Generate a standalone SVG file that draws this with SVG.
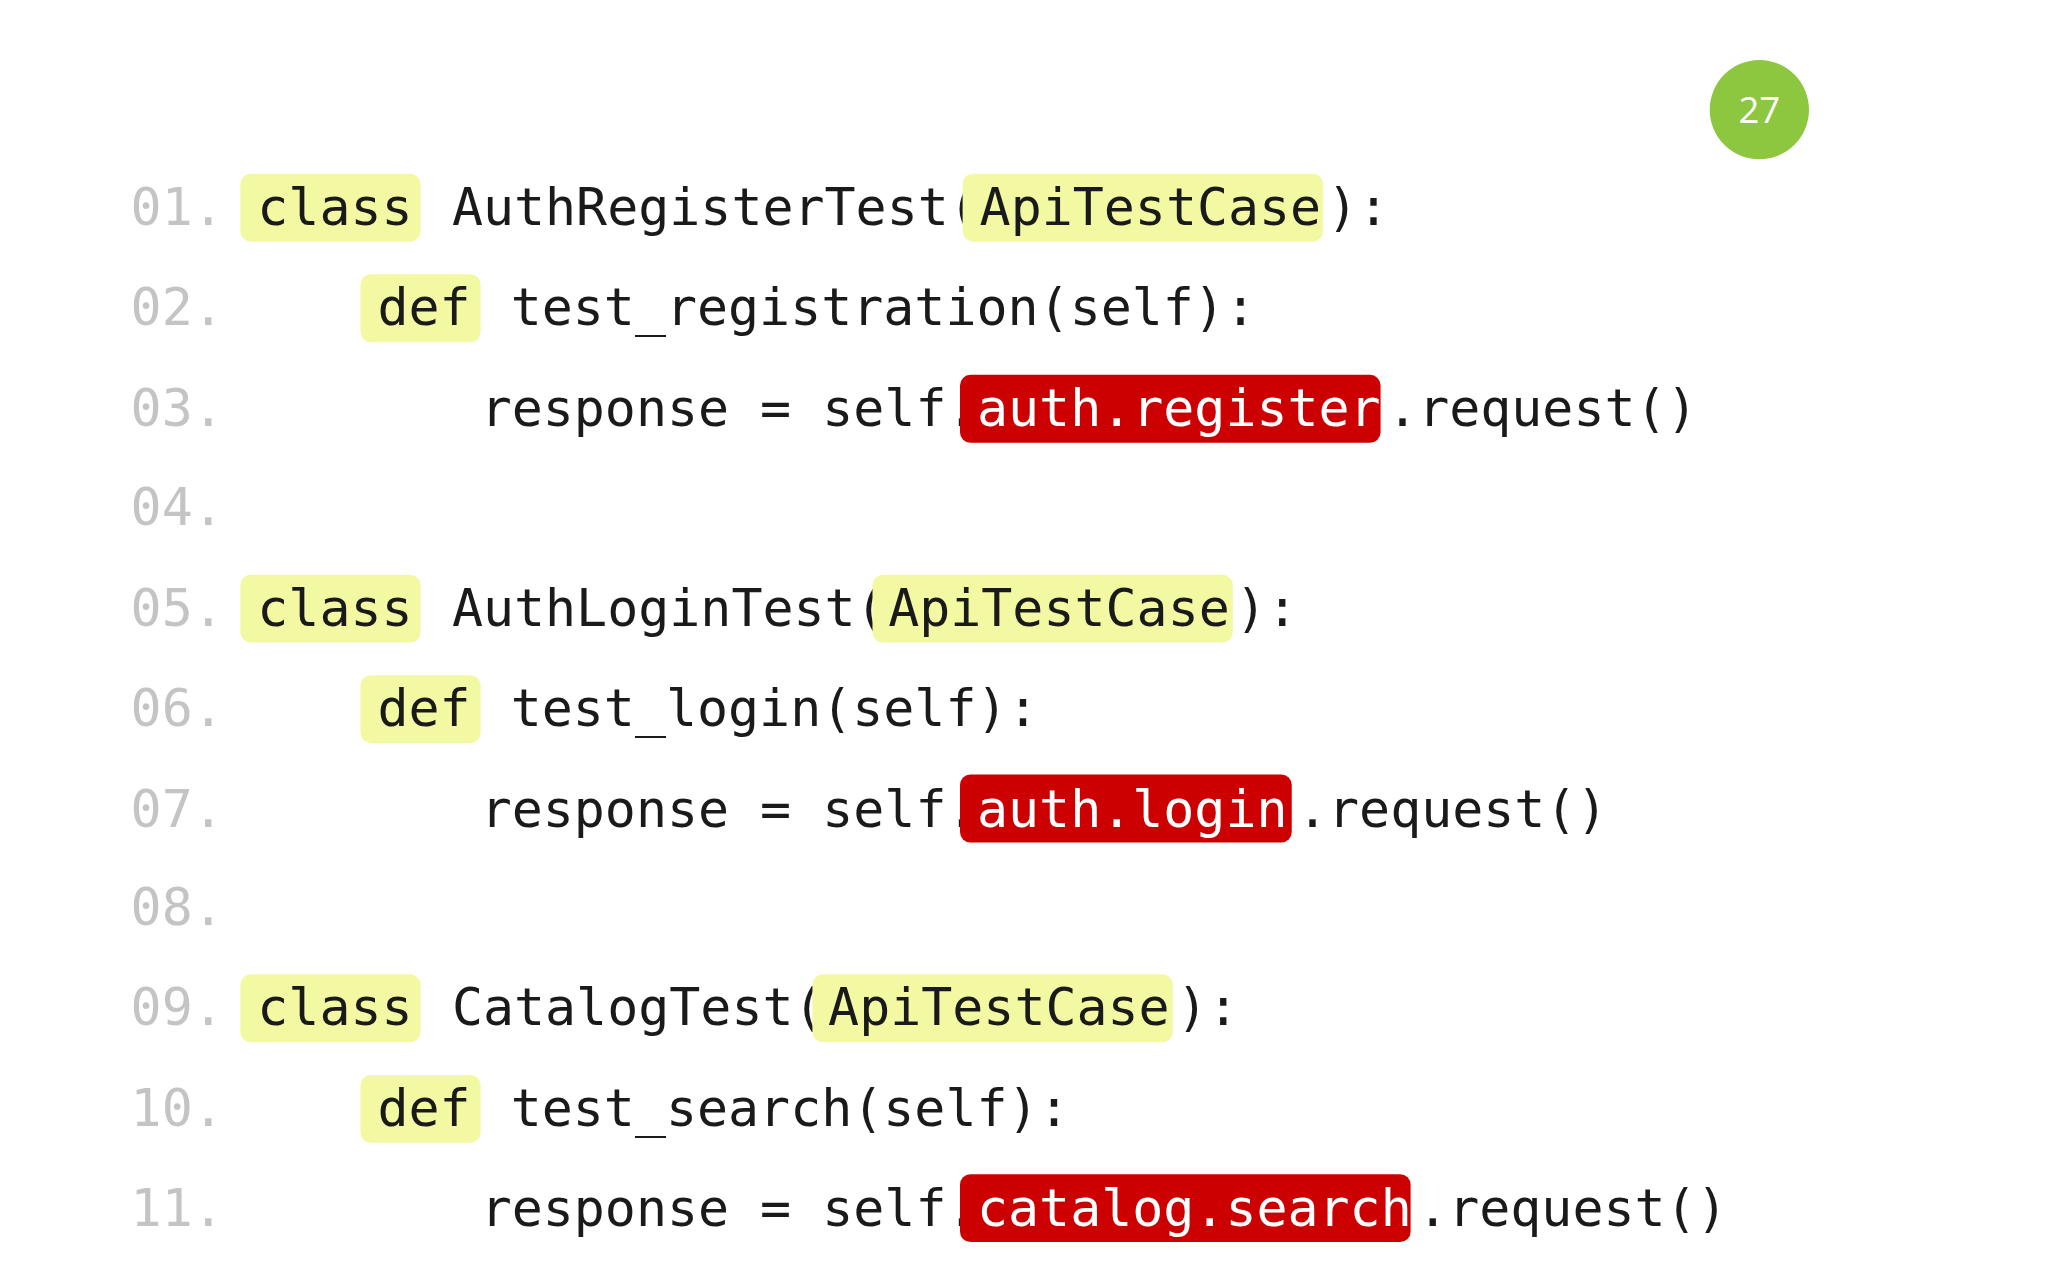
<svg xmlns="http://www.w3.org/2000/svg" width="2048" height="1280" viewBox="0 0 2048 1280">
<style>
.t{font-family:"DejaVu Sans Mono","Liberation Mono",monospace;font-size:39.5px;fill:#1a1a1a}
.n{font-family:"DejaVu Sans Mono","Liberation Mono",monospace;font-size:39.5px;fill:#c4c4c4}
.w{fill:#ffffff}
.y{fill:#f3f9a2}
.r{fill:#cc0000}
</style>
<rect width="2048" height="1280" fill="#ffffff"/>
<g transform="scale(1.30612)">
<g id="badge"><circle cx="1347" cy="84" r="38" fill="#8dc63f"/><text x="1347" y="94" text-anchor="middle" font-family="Open Sans,sans-serif" font-size="28" fill="#fff">27</text></g>
<g id="lines">
<text class="n" x="100" y="172">01.</text>
<text class="n" x="100" y="249">02.</text>
<text class="n" x="100" y="326">03.</text>
<text class="n" x="100" y="402">04.</text>
<text class="n" x="100" y="479">05.</text>
<text class="n" x="100" y="556">06.</text>
<text class="n" x="100" y="633">07.</text>
<text class="n" x="100" y="708">08.</text>
<text class="n" x="100" y="785">09.</text>
<text class="n" x="100" y="862">10.</text>
<text class="n" x="100" y="939">11.</text>
</g>
<g id="line1">
<rect class="y" x="184" y="133" width="138" height="52" rx="8"/>
<text class="t" x="197" y="172">class</text>
<text class="t" x="346" y="172">AuthRegisterTest(</text>
<rect class="y" x="737" y="133" width="276" height="52" rx="8"/>
<text class="t" x="750" y="172">ApiTestCase</text>
<text class="t" x="1016" y="172">):</text>
</g>
<g id="line2">
<rect class="y" x="276" y="210" width="92" height="52" rx="8"/>
<text class="t" x="289" y="249">def</text>
<text class="t" x="391" y="249">test_registration(self):</text>
</g>
<g id="line3">
<text class="t" x="368" y="326">response = self.</text>
<rect class="r" x="735" y="287" width="322" height="52" rx="8"/>
<text class="t w" x="748" y="326">auth.register</text>
<text class="t" x="1062" y="326">.request()</text>
</g>
<g id="line5">
<rect class="y" x="184" y="440" width="138" height="52" rx="8"/>
<text class="t" x="197" y="479">class</text>
<text class="t" x="346" y="479">AuthLoginTest(</text>
<rect class="y" x="668" y="440" width="276" height="52" rx="8"/>
<text class="t" x="680" y="479">ApiTestCase</text>
<text class="t" x="946" y="479">):</text>
</g>
<g id="line6">
<rect class="y" x="276" y="517" width="92" height="52" rx="8"/>
<text class="t" x="289" y="556">def</text>
<text class="t" x="391" y="556">test_login(self):</text>
</g>
<g id="line7">
<text class="t" x="368" y="633">response = self.</text>
<rect class="r" x="735" y="593" width="254" height="52" rx="8"/>
<text class="t w" x="748" y="633">auth.login</text>
<text class="t" x="993" y="633">.request()</text>
</g>
<g id="line9">
<rect class="y" x="184" y="746" width="138" height="52" rx="8"/>
<text class="t" x="197" y="785">class</text>
<text class="t" x="346" y="785">CatalogTest(</text>
<rect class="y" x="622" y="746" width="276" height="52" rx="8"/>
<text class="t" x="634" y="785">ApiTestCase</text>
<text class="t" x="901" y="785">):</text>
</g>
<g id="line10">
<rect class="y" x="276" y="823" width="92" height="52" rx="8"/>
<text class="t" x="289" y="862">def</text>
<text class="t" x="391" y="862">test_search(self):</text>
</g>
<g id="line11">
<text class="t" x="368" y="939">response = self.</text>
<rect class="r" x="735" y="899" width="345" height="52" rx="8"/>
<text class="t w" x="748" y="939">catalog.search</text>
<text class="t" x="1085" y="939">.request()</text>
</g>
</g>
</svg>
